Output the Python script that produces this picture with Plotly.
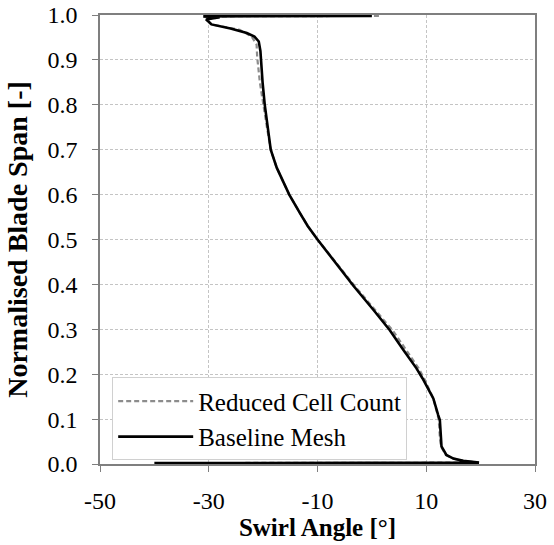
import plotly.graph_objects as go

# Baseline Mesh: swirl angle [deg] vs normalised span
base_span = [0.998, 0.997, 0.995, 0.99, 0.985, 0.979, 0.97, 0.96, 0.952, 0.941, 0.92, 0.90,
             0.85, 0.80, 0.75, 0.70, 0.66, 0.60, 0.558, 0.53, 0.50, 0.454, 0.397, 0.343,
             0.298, 0.254, 0.213, 0.191, 0.146, 0.109, 0.098, 0.06, 0.039, 0.02, 0.012,
             0.007, 0.003, 0.002]
base_angle = [0.0, -31.0, -28.0, -30.5, -30.0, -29.5, -26.0, -23.0, -21.6, -20.8, -20.5, -20.4,
              -20.1, -19.7, -19.2, -18.6, -17.5, -15.2, -13.2, -11.8, -10.0, -7.1, -3.4, 0.3,
              3.3, 5.8, 8.2, 9.3, 11.3, 12.2, 12.5, 12.7, 12.8, 13.7, 15.0,
              16.8, 19.7, -40.0]

# Reduced Cell Count
red_span = [0.998, 0.997, 0.995, 0.99, 0.985, 0.979, 0.967, 0.952, 0.934, 0.907, 0.85, 0.80,
            0.75, 0.70, 0.66, 0.60, 0.558, 0.53, 0.50, 0.454, 0.397, 0.343, 0.298, 0.254,
            0.213, 0.191, 0.146, 0.109, 0.098, 0.06, 0.039, 0.02, 0.012, 0.007, 0.003, 0.002]
red_angle = [1.3, -31.0, -28.0, -30.5, -30.0, -29.5, -24.3, -22.1, -21.2, -21.1, -20.6, -20.0,
             -19.3, -18.6, -17.5, -15.2, -13.2, -11.8, -10.0, -7.0, -3.2, 0.6, 3.8, 6.3,
             8.6, 9.6, 11.3, 12.1, 12.3, 12.5, 12.7, 13.6, 15.0, 16.8, 19.7, -40.0]

x_ticks = [-50, -30, -10, 10, 30]

FONT = "Liberation Serif, Times New Roman, serif"

fig = go.Figure()
fig.add_trace(go.Scatter(x=red_angle, y=red_span, mode="lines", name="Reduced Cell Count",
                         line=dict(color="#8c8c8c", width=2.2, dash="5px,3px")))
fig.add_trace(go.Scatter(x=base_angle, y=base_span, mode="lines", name="Baseline Mesh",
                         line=dict(color="#000000", width=2.6)))

fig.update_layout(
    width=554, height=545,
    margin=dict(l=100, r=19, t=15, b=81, autoexpand=False),
    paper_bgcolor="white", plot_bgcolor="white",
    font=dict(family=FONT, color="black", size=24),
    legend=dict(x=0.028, y=0.193, xanchor="left", yanchor="top",
                bgcolor="white", bordercolor="#d0d0d0", borderwidth=1,
                font=dict(family=FONT, size=25), tracegroupgap=0,
                itemwidth=75),
    showlegend=True,
)
fig.update_xaxes(range=[-50, 30], tickvals=x_ticks, ticktext=[str(v) for v in x_ticks],
                 showline=True, linecolor="#7f7f7f", linewidth=1.5, mirror=True,
                 ticks="outside", ticklen=6, tickcolor="#7f7f7f", ticklabelstandoff=8,
                 ticklabeloverflow="allow",
                 showgrid=True, gridcolor="#c4c4c4", griddash="3px,2px", gridwidth=1,
                 zeroline=False, automargin=False,
                 title=dict(text="<b>Swirl Angle [°]</b>", font=dict(size=25), standoff=6),
                 tickfont=dict(size=24))
fig.update_yaxes(range=[0, 1], dtick=0.1, tickformat=".1f",
                 showline=True, linecolor="#7f7f7f", linewidth=1.5, mirror=True,
                 ticks="outside", ticklen=6, tickcolor="#7f7f7f", ticklabelstandoff=10,
                 ticklabeloverflow="allow",
                 showgrid=True, gridcolor="#c4c4c4", griddash="3px,2px", gridwidth=1,
                 zeroline=False, automargin=False,
                 title=dict(text="<b>Normalised Blade Span [-]</b>", font=dict(size=28), standoff=12),
                 tickfont=dict(size=24))

# remove the browser's default 8px body margin so the figure fills the window
fig.write_html("out.html", config={"displayModeBar": False},
               post_script="document.body.style.margin='0';")
